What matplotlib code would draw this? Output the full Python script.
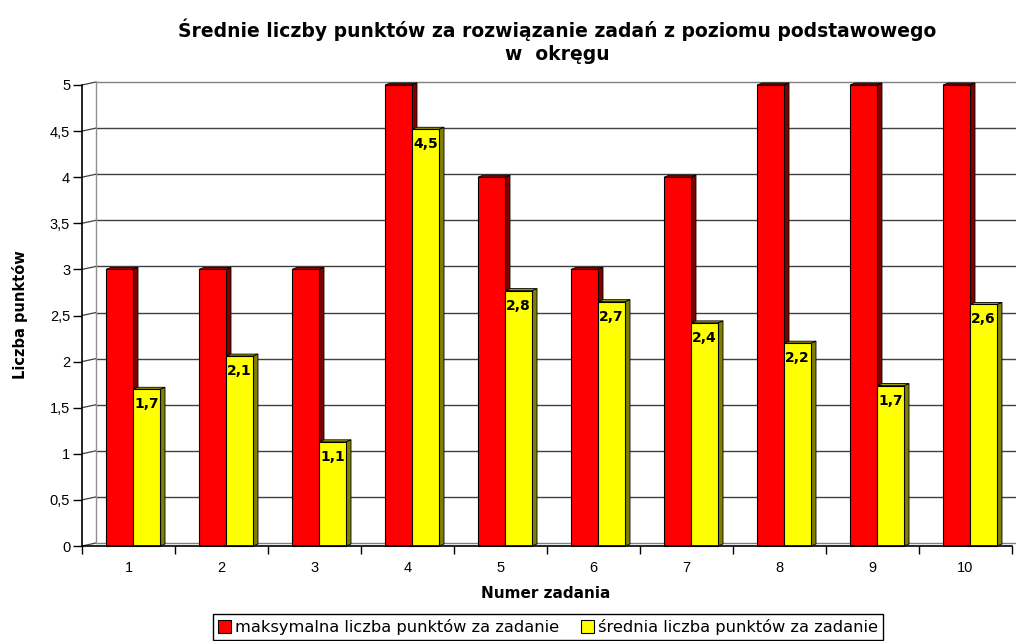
import matplotlib
matplotlib.use("Agg")
import matplotlib.pyplot as plt
from matplotlib.patches import Polygon, Rectangle

# data
zadania = ["1", "2", "3", "4", "5", "6", "7", "8", "9", "10"]
maks = [3, 3, 3, 5, 4, 3, 4, 5, 5, 5]
srednia = [1.70, 2.06, 1.13, 4.52, 2.77, 2.65, 2.42, 2.20, 1.74, 2.62]
etykiety = ["1,7", "2,1", "1,1", "4,5", "2,8", "2,7", "2,4", "2,2", "1,7", "2,6"]
y_ticks = [0, 0.5, 1, 1.5, 2, 2.5, 3, 3.5, 4, 4.5, 5]

W, H = 1016, 641
fig = plt.figure(figsize=(W / 100, H / 100), dpi=100, facecolor="white")
# front plane of the pseudo-3d plot, in pixels
x0, x1, y0, y1 = 82, 1012, 546, 85
ax = fig.add_axes([x0 / W, 1 - y0 / H, (x1 - x0) / W, (y0 - y1) / H])
ax.set_xlim(0, len(zadania))
ax.set_ylim(0, 5)
ax.set_facecolor("none")

px_x = len(zadania) / (x1 - x0)
px_y = 5 / (y0 - y1)
WX, WY = 14 * px_x, 3 * px_y      # back wall offset
BX, BY = 5 * px_x, 2 * px_y       # bar depth

# back wall, grid lines and floor
for v in y_ticks:
    col = "#808080" if v in (0, 5) else "#404040"
    ax.plot([0, WX], [v, v + WY], color="#404040", lw=0.9, clip_on=False, zorder=1)
    ax.plot([WX, len(zadania) + WX], [v + WY, v + WY], color=col, lw=1.0,
            clip_on=False, zorder=1)
ax.plot([WX, WX], [WY, 5 + WY], color="#909090", lw=1.0, clip_on=False, zorder=1)


def bar3d(x, w, h, face, side, top):
    ax.add_patch(Polygon([(x + w, 0), (x + w + BX, BY), (x + w + BX, h + BY), (x + w, h)],
                         closed=True, facecolor=side, edgecolor="black", lw=0.6,
                         zorder=3, clip_on=False))
    ax.add_patch(Polygon([(x, h), (x + BX, h + BY), (x + w + BX, h + BY), (x + w, h)],
                         closed=True, facecolor=top, edgecolor="black", lw=0.6,
                         zorder=3, clip_on=False))
    ax.add_patch(Rectangle((x, 0), w, h, facecolor=face, edgecolor="black", lw=0.8,
                           zorder=4, clip_on=False))


bw = 27 * px_x
off = 24 * px_x
for i in range(len(zadania)):
    bar3d(i + off, bw, maks[i], "#FF0000", "#800000", "#A00000")
    bar3d(i + off + bw, bw, srednia[i], "#FFFF00", "#808000", "#A0A000")
    ax.text(i + off + 1.5 * bw, srednia[i] - 15 * px_y, etykiety[i],
            ha="center", va="center", fontsize=10, fontweight="bold",
            family="DejaVu Sans", zorder=6)

for s in ["top", "right"]:
    ax.spines[s].set_visible(False)
ax.spines["left"].set_linewidth(1.2)
ax.spines["bottom"].set_linewidth(1.2)
ax.spines["left"].set_zorder(5)
ax.spines["bottom"].set_zorder(5)

ax.set_yticks(y_ticks)
ax.set_yticklabels([("%g" % v).replace(".", ",") for v in y_ticks],
                   family="Liberation Sans", fontsize=10.5)
ax.tick_params(axis="y", length=6.5, width=1, pad=2)
ax.set_xticks(range(len(zadania) + 1))
ax.set_xticklabels([])
ax.tick_params(axis="x", which="major", length=6, width=1, direction="out")
ax.set_xticks([i + 0.5 for i in range(len(zadania))], minor=True)
ax.set_xticklabels(zadania, minor=True, family="Liberation Sans", fontsize=10.5)
ax.tick_params(axis="x", which="minor", length=0, pad=11)

fig.text(557 / W, 1 - 30 / H, "Średnie liczby punktów za rozwiązanie zadań z poziomu podstawowego",
         ha="center", va="center", fontsize=13.5, fontweight="bold", family="DejaVu Sans")
fig.text(557 / W, 1 - 55 / H, "w  okręgu", ha="center", va="center",
         fontsize=13.5, fontweight="bold", family="DejaVu Sans")
fig.text(20 / W, 1 - 315 / H, "Liczba punktów", rotation=90, ha="center", va="center",
         fontsize=10.5, fontweight="bold", family="DejaVu Sans")
fig.text(546 / W, 1 - 593 / H, "Numer zadania", ha="center", va="center",
         fontsize=11, fontweight="bold", family="DejaVu Sans")

handles = [Rectangle((0, 0), 1, 1, facecolor="#FF0000", edgecolor="black", lw=0.8),
           Rectangle((0, 0), 1, 1, facecolor="#FFFF00", edgecolor="black", lw=0.8)]
leg = fig.legend(handles, ["maksymalna liczba punktów za zadanie",
                           "średnia liczba punktów za zadanie"],
                 loc="upper center", bbox_to_anchor=(548 / W, 1 - 606 / H), ncol=2,
                 frameon=True, fancybox=False, edgecolor="black", framealpha=1,
                 handlelength=0.8, handleheight=0.8, handletextpad=0.3,
                 columnspacing=1.3, borderpad=0.3, prop={"family": "DejaVu Sans", "size": 11.7})
leg.get_frame().set_linewidth(1.0)

fig.savefig("out.png", dpi=100, facecolor="white")
